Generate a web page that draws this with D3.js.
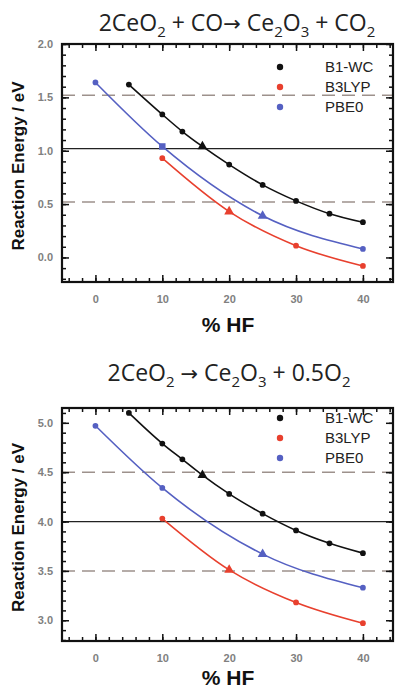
<!DOCTYPE html>
<html>
<head>
<meta charset="utf-8">
<script src="https://cdn.jsdelivr.net/npm/d3@7"></script>
<style>
  body { margin: 0; background: #fff; }
  svg { display: block; }
</style>
</head>
<body>
<script>
// % HF for each functional
const hfB1WC = [5, 10, 13, 16, 20, 25, 30, 35, 40];
const hfB3LYP = [10, 20, 30, 40];
const hfPBE0 = [0, 10, 25, 40];

// 2CeO2 + CO -> Ce2O3 + CO2
const coB1WC = [1.62, 1.34, 1.18, 1.04, 0.87, 0.68, 0.53, 0.41, 0.33];
const coB3LYP = [0.93, 0.43, 0.11, -0.08];
const coPBE0 = [1.64, 1.04, 0.39, 0.08];

// 2CeO2 -> Ce2O3 + 0.5O2
const o2B1WC = [5.10, 4.79, 4.63, 4.47, 4.28, 4.08, 3.91, 3.78, 3.68];
const o2B3LYP = [4.03, 3.51, 3.18, 2.97];
const o2PBE0 = [4.97, 4.34, 3.67, 3.33];

const seriesNames = ["B1-WC", "B3LYP", "PBE0"];
const xTicks = [0, 10, 20, 30, 40];
const coYTicks = [0.0, 0.5, 1.0, 1.5, 2.0];
const o2YTicks = [3.0, 3.5, 4.0, 4.5, 5.0];
const coRefLines = [1.52, 1.02, 0.52];
const o2RefLines = [4.5, 4.0, 3.5];

const colors = { "B1-WC": "#111", "B3LYP": "#e8402e", "PBE0": "#5560c2" };

const W = 398, H = 693;
const svg = d3.select("body").append("svg").attr("width", W).attr("height", H);

// parts: [text, kind]  kind: "sub" subscript, "arrow" big arrow glyph
function title(g, x, y, parts) {
  const t = g.append("text").attr("x", x).attr("y", y)
    .attr("text-anchor", "middle")
    .style("font-family", "'Open Sans', sans-serif")
    .style("font-size", "23px").style("fill", "#222");
  let shifted = false;
  parts.forEach(p => {
    const ts = t.append("tspan").text(p[0]);
    if (p[1] === "sub") {
      ts.attr("dy", 6).style("font-size", "15px");
      shifted = true;
    } else {
      if (shifted) { ts.attr("dy", -6); shifted = false; }
      if (p[1] === "arrow") ts.style("font-family", "'DejaVu Sans', sans-serif").style("font-size", "21px");
    }
  });
}

function drawPanel(cfg) {
  const g = svg.append("g");
  const x = d3.scaleLinear().domain([-5, 44.5]).range([62, 393]);
  const y = d3.scaleLinear().domain(cfg.yDomain).range([cfg.bottom, cfg.top]);

  title(g, cfg.titleX, cfg.titleY, cfg.title);

  // reference lines
  cfg.refs.forEach((v, i) => {
    g.append("line")
      .attr("x1", x.range()[0]).attr("x2", x.range()[1])
      .attr("y1", y(v)).attr("y2", y(v))
      .attr("stroke", i === 1 ? "#222" : "#9d918c")
      .attr("stroke-width", i === 1 ? 1.2 : 1.5)
      .attr("stroke-dasharray", i === 1 ? null : "13,7");
  });

  const minorX = d3.range(-4, 45, 2);
  const minorY = d3.range(Math.ceil(cfg.yDomain[0] * 10), Math.floor(cfg.yDomain[1] * 10) + 1).map(d => d / 10);

  const styleAxis = a => {
    a.select(".domain").remove();
    a.selectAll("line").attr("stroke", "#111").attr("stroke-width", 1.5);
  };
  const styleLabels = s => s
    .style("font-family", "Arial, 'Liberation Sans', sans-serif")
    .style("font-size", "11px").style("font-weight", "bold").style("fill", "#808080");

  // bottom axis (ticks pointing in)
  g.append("g").attr("transform", `translate(0,${cfg.bottom})`)
    .call(d3.axisBottom(x).tickValues(minorX).tickSize(-4).tickFormat(""))
    .call(styleAxis);
  g.append("g").attr("transform", `translate(0,${cfg.bottom})`)
    .call(d3.axisBottom(x).tickValues(xTicks).tickSize(-7).tickPadding(13).tickFormat(d3.format("d")))
    .call(styleAxis)
    .selectAll("text").call(styleLabels);
  // top axis
  g.append("g").attr("transform", `translate(0,${cfg.top})`)
    .call(d3.axisTop(x).tickValues(minorX).tickSize(-4).tickFormat(""))
    .call(styleAxis);
  g.append("g").attr("transform", `translate(0,${cfg.top})`)
    .call(d3.axisTop(x).tickValues(xTicks).tickSize(-7).tickFormat(""))
    .call(styleAxis);
  // left axis
  g.append("g").attr("transform", `translate(62,0)`)
    .call(d3.axisLeft(y).tickValues(minorY).tickSize(-4).tickFormat(""))
    .call(styleAxis);
  g.append("g").attr("transform", `translate(62,0)`)
    .call(d3.axisLeft(y).tickValues(cfg.yTicks).tickSize(-7).tickPadding(9).tickFormat(d3.format(".1f")))
    .call(styleAxis)
    .selectAll("text").call(styleLabels);
  // right axis
  g.append("g").attr("transform", `translate(393,0)`)
    .call(d3.axisRight(y).tickValues(minorY).tickSize(-4).tickFormat(""))
    .call(styleAxis);
  g.append("g").attr("transform", `translate(393,0)`)
    .call(d3.axisRight(y).tickValues(cfg.yTicks).tickSize(-7).tickFormat(""))
    .call(styleAxis);

  // frame
  g.append("rect")
    .attr("x", 62).attr("y", cfg.top)
    .attr("width", 393 - 62).attr("height", cfg.bottom - cfg.top)
    .attr("fill", "none").attr("stroke", "#111").attr("stroke-width", 2.2);

  // curves and markers
  const line = d3.line().x(d => x(d[0])).y(d => y(d[1])).curve(d3.curveMonotoneX);
  cfg.series.forEach(s => {
    const pts = s.hf.map((h, i) => [h, s.values[i]]);
    const c = colors[s.name];
    g.append("path").datum(pts).attr("d", line)
      .attr("fill", "none").attr("stroke", c).attr("stroke-width", 1.6);
    pts.forEach(p => {
      const sym = p[0] === s.triangle ? d3.symbolTriangle
        : (p[0] === s.square ? d3.symbolSquare : d3.symbolCircle);
      const size = sym === d3.symbolCircle ? 26 : 42;
      g.append("path")
        .attr("d", d3.symbol().type(sym).size(size)())
        .attr("transform", `translate(${x(p[0])},${y(p[1])})`)
        .attr("fill", c);
    });
  });

  // legend
  seriesNames.forEach((n, i) => {
    const ly = cfg.legendY + i * 20;
    g.append("circle").attr("cx", 280).attr("cy", ly).attr("r", 3.2).attr("fill", colors[n]);
    g.append("text").attr("x", 325).attr("y", ly).attr("dy", "0.36em")
      .text(n)
      .style("font-family", "Arial, 'Liberation Sans', sans-serif")
      .style("font-size", "15px").style("fill", "#222");
  });

  // axis labels
  g.append("text")
    .attr("x", 228).attr("y", cfg.bottom + cfg.xLabelGap).attr("dy", "0.35em")
    .attr("text-anchor", "middle").text("% HF")
    .style("font-family", "Arial, 'Liberation Sans', sans-serif")
    .style("font-size", "21px").style("font-weight", "bold").style("fill", "#111");
  g.append("text")
    .attr("transform", `translate(18,${(cfg.top + cfg.bottom) / 2 + 3}) rotate(-90)`)
    .attr("dy", "0.36em")
    .attr("text-anchor", "middle").text("Reaction Energy / eV")
    .style("font-family", "Arial, 'Liberation Sans', sans-serif")
    .style("font-size", "17px").style("font-weight", "bold").style("fill", "#111");
}

drawPanel({
  top: 44, bottom: 282, yDomain: [-0.23, 2.0], yTicks: coYTicks, refs: coRefLines,
  titleX: 237, titleY: 31, legendY: 67, xLabelGap: 43,
  title: [["2CeO"], ["2", "sub"], [" + CO"], ["\u2192", "arrow"], [" Ce"], ["2", "sub"], ["O"], ["3", "sub"], [" + CO"], ["2", "sub"]],
  series: [
    { name: "B1-WC", hf: hfB1WC, values: coB1WC, triangle: 16 },
    { name: "B3LYP", hf: hfB3LYP, values: coB3LYP, triangle: 20 },
    { name: "PBE0", hf: hfPBE0, values: coPBE0, triangle: 25, square: 10 }
  ]
});

drawPanel({
  top: 408, bottom: 641, yDomain: [2.79, 5.15], yTicks: o2YTicks, refs: o2RefLines,
  titleX: 229, titleY: 381, legendY: 418, xLabelGap: 37,
  title: [["2CeO"], ["2", "sub"], [" "], ["\u2192", "arrow"], [" Ce"], ["2", "sub"], ["O"], ["3", "sub"], [" + 0.5O"], ["2", "sub"]],
  series: [
    { name: "B1-WC", hf: hfB1WC, values: o2B1WC, triangle: 16 },
    { name: "B3LYP", hf: hfB3LYP, values: o2B3LYP, triangle: 20 },
    { name: "PBE0", hf: hfPBE0, values: o2PBE0, triangle: 25 }
  ]
});
</script>
</body>
</html>
